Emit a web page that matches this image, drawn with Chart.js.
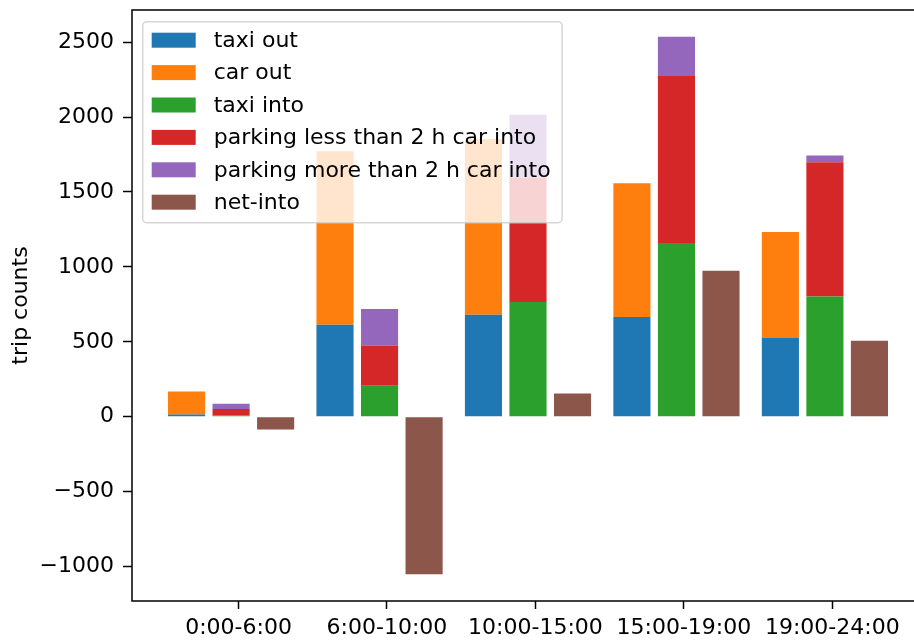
<!DOCTYPE html>
<html>
<head>
<meta charset="utf-8">
<script src="https://cdn.jsdelivr.net/npm/chart.js@4.4.1/dist/chart.umd.min.js"></script>
<style>
  html, body { margin: 0; padding: 0; overflow: hidden; background: #fff; width: 914px; height: 640px; }
  canvas { display: block; }
</style>
</head>
<body>
<canvas id="c" width="914" height="640"></canvas>
<script>
// ---- data ----
const categories = ['0:00-6:00', '6:00-10:00', '10:00-15:00', '15:00-19:00', '19:00-24:00'];
const taxiOut   = [15, 614, 681, 666, 525];
const carOut    = [154, 1157, 1173, 892, 708];
const taxiInto  = [10, 207, 766, 1160, 803];
const parkShort = [42, 269, 831, 1114, 895];
const parkLong  = [35, 243, 419, 261, 46];
const netInto   = [-85, -1050, 155, 975, 508];
const yTickValues = [-1000, -500, 0, 500, 1000, 1500, 2000, 2500];
const seriesLabels = ['taxi out', 'car out', 'taxi into', 'parking less than 2 h car into', 'parking more than 2 h car into', 'net-into'];
const seriesColors = ['#1f77b4', '#ff7f0e', '#2ca02c', '#d62728', '#9467bd', '#8c564b'];

// ---- layout helpers ----
const FONT = "'DejaVu Sans', sans-serif";
const FS = 22;
const SHIFT = 0.3, BAR_W = 0.25, TICK_SHIFT = 0.05;
const PLOT_LEFT = 132, PLOT_RIGHT_FULL = 924, CANVAS_W = 914;

const xDataLo = -SHIFT - BAR_W / 2;
const xDataHi = (categories.length - 1) + SHIFT + BAR_W / 2;
const xPad = 0.05 * (xDataHi - xDataLo);
const xFullMin = xDataLo - xPad, xFullMax = xDataHi + xPad;
// the reference picture is cropped a little before the right end of the axes
const xVisibleMax = xFullMin + (xFullMax - xFullMin) * (CANVAS_W - PLOT_LEFT) / (PLOT_RIGHT_FULL - PLOT_LEFT);

const intoTotals = taxiInto.map((v, i) => v + parkShort[i] + parkLong[i]);
const outTotals = taxiOut.map((v, i) => v + carOut[i]);
const yDataLo = Math.min(0, ...netInto);
const yDataHi = Math.max(...intoTotals, ...outTotals, ...netInto);
const yPad = 0.05 * (yDataHi - yDataLo);

function pts(arr, off) { return arr.map((v, i) => ({ x: i + off, y: v })); }

const barCommon = { grouped: false, categoryPercentage: 1, barPercentage: BAR_W / SHIFT, borderWidth: 0 };

const datasets = [
  { label: seriesLabels[0], data: pts(taxiOut, -SHIFT),  backgroundColor: seriesColors[0], stack: 'out',  ...barCommon },
  { label: seriesLabels[1], data: pts(carOut, -SHIFT),   backgroundColor: seriesColors[1], stack: 'out',  ...barCommon },
  { label: seriesLabels[2], data: pts(taxiInto, 0),      backgroundColor: seriesColors[2], stack: 'into', ...barCommon },
  { label: seriesLabels[3], data: pts(parkShort, 0),     backgroundColor: seriesColors[3], stack: 'into', ...barCommon },
  { label: seriesLabels[4], data: pts(parkLong, 0),      backgroundColor: seriesColors[4], stack: 'into', ...barCommon },
  { label: seriesLabels[5], data: pts(netInto, SHIFT),   backgroundColor: seriesColors[5], stack: 'net',  ...barCommon },
];

// frame (left, top, bottom spines) + matplotlib-style legend drawn over the bars
const mplDecor = {
  id: 'mplDecor',
  afterDraw(chart) {
    const { ctx, chartArea: ca } = chart;
    ctx.save();
    ctx.strokeStyle = '#000';
    ctx.lineWidth = 1.5;
    ctx.beginPath();
    ctx.moveTo(ca.right + 2, ca.top);
    ctx.lineTo(ca.left, ca.top);
    ctx.lineTo(ca.left, ca.bottom);
    ctx.lineTo(ca.right + 2, ca.bottom);
    ctx.stroke();

    ctx.font = FS + 'px ' + FONT;
    const ds = chart.data.datasets;
    const maxW = Math.max(...ds.map(d => ctx.measureText(d.label).width));
    const bx = ca.left + 10.7, by = ca.top + 11.7;
    const padL = 9, handleW = 44, handleH = 15, gap = 18, padR = 11.5;
    const firstRow = 18.5, rowStep = 32.4, padB = 20.5;
    const bw = padL + handleW + gap + maxW + padR;
    const bh = firstRow + (ds.length - 1) * rowStep + padB;
    const r = 4;
    ctx.beginPath();
    ctx.moveTo(bx + r, by);
    ctx.arcTo(bx + bw, by, bx + bw, by + bh, r);
    ctx.arcTo(bx + bw, by + bh, bx, by + bh, r);
    ctx.arcTo(bx, by + bh, bx, by, r);
    ctx.arcTo(bx, by, bx + bw, by, r);
    ctx.closePath();
    ctx.fillStyle = 'rgba(255,255,255,0.8)';
    ctx.fill();
    ctx.strokeStyle = 'rgba(204,204,204,0.8)';
    ctx.lineWidth = 1.5;
    ctx.stroke();

    ctx.textBaseline = 'middle';
    ctx.textAlign = 'left';
    ds.forEach((d, i) => {
      const cy = by + firstRow + i * rowStep;
      ctx.fillStyle = d.backgroundColor;
      ctx.fillRect(bx + padL, cy - handleH / 2, handleW, handleH);
      ctx.fillStyle = '#000';
      ctx.fillText(d.label, bx + padL + handleW + gap, cy + 1);
    });
    ctx.restore();
  }
};

new Chart(document.getElementById('c'), {
  type: 'bar',
  data: { datasets },
  options: {
    responsive: false,
    animation: false,
    devicePixelRatio: 1,
    layout: { padding: { left: 0, top: 10, right: 0, bottom: 0 } },
    plugins: { legend: { display: false }, tooltip: { enabled: false } },
    scales: {
      x: {
        type: 'linear',
        min: xFullMin,
        max: xVisibleMax,
        offset: false,
        border: { display: false },
        grid: { display: true, offset: false, drawOnChartArea: false, drawTicks: true, tickLength: 8, tickWidth: 1.5, tickColor: '#000' },
        afterBuildTicks: (s) => { s.ticks = categories.map((c, i) => ({ value: i + TICK_SHIFT })); },
        ticks: {
          autoSkip: false, maxRotation: 0, minRotation: 0,
          color: '#000', font: { family: FONT, size: FS }, padding: 6,
          callback: (v, i) => categories[i]
        },
        afterFit: (s) => { s.height = 39; s.paddingLeft = 0; s.paddingRight = 0; }
      },
      y: {
        stacked: true,
        min: yDataLo - yPad,
        max: yDataHi + yPad,
        border: { display: false },
        grid: { display: true, offset: false, drawOnChartArea: false, drawTicks: true, tickLength: 9, tickWidth: 1.5, tickColor: '#000' },
        afterBuildTicks: (s) => { s.ticks = yTickValues.map(v => ({ value: v })); },
        ticks: {
          color: '#000', font: { family: FONT, size: FS }, padding: 9,
          callback: (v) => (v < 0 ? '\u2212' + Math.abs(v) : String(v))
        },
        title: { display: true, text: 'trip counts', color: '#000', font: { family: FONT, size: FS }, padding: { top: 8, bottom: 0 } },
        afterFit: (s) => { s.width = PLOT_LEFT; s.paddingTop = 0; s.paddingBottom = 0; }
      }
    }
  },
  plugins: [mplDecor]
});
</script>
</body>
</html>
